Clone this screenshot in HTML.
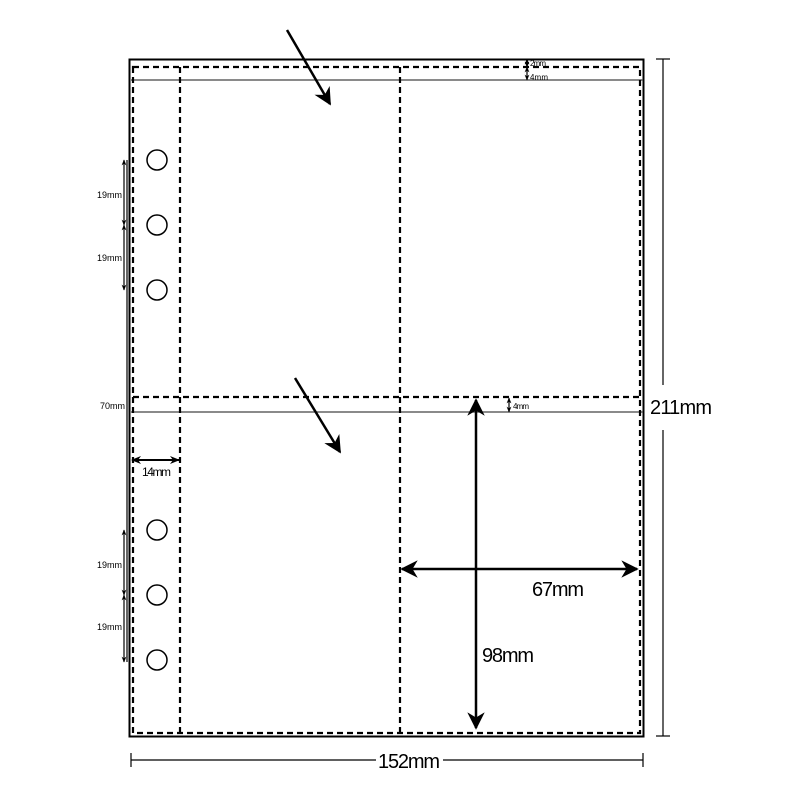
<!DOCTYPE html>
<html><head><style>body{margin:0;background:#fff}svg{display:block}</style></head><body>
<svg width="800" height="800" viewBox="0 0 800 800" xmlns="http://www.w3.org/2000/svg" font-family="Liberation Sans, sans-serif">
<defs>
<marker id="a" viewBox="0 0 10 10" refX="9" refY="5" markerWidth="7" markerHeight="7" orient="auto-start-reverse"><path d="M0,0 L10,5 L0,10 L3,5z" fill="#000"/></marker>
<marker id="s" viewBox="0 0 10 10" refX="9" refY="5" markerWidth="5" markerHeight="5" orient="auto-start-reverse"><path d="M0,1 L10,5 L0,9 L3,5z" fill="#000"/></marker>
</defs>
<rect x="129.5" y="59.5" width="514" height="677" fill="none" stroke="#000" stroke-width="2"/>
<line x1="131" y1="80" x2="643" y2="80" stroke="#444" stroke-width="1.2"/>
<line x1="131" y1="412" x2="643" y2="412" stroke="#444" stroke-width="1.2"/>
<g stroke="#000" stroke-width="2.2" stroke-dasharray="6,4" fill="none">
<rect x="133" y="67" width="507" height="666"/>
<line x1="180" y1="67" x2="180" y2="733"/>
<line x1="400" y1="67" x2="400" y2="733"/>
<line x1="133" y1="397" x2="640" y2="397"/>
</g>
<g fill="none" stroke="#000" stroke-width="1.5">
<circle cx="157" cy="160" r="10"/><circle cx="157" cy="225" r="10"/><circle cx="157" cy="290" r="10"/>
<circle cx="157" cy="530" r="10"/><circle cx="157" cy="595" r="10"/><circle cx="157" cy="660" r="10"/>
</g>
<g stroke="#000" stroke-width="1.2">
<line x1="127" y1="160" x2="127" y2="662"/>
<line x1="124" y1="160" x2="124" y2="225" marker-start="url(#s)" marker-end="url(#s)"/>
<line x1="124" y1="225" x2="124" y2="290" marker-start="url(#s)" marker-end="url(#s)"/>
<line x1="124" y1="530" x2="124" y2="595" marker-start="url(#s)" marker-end="url(#s)"/>
<line x1="124" y1="595" x2="124" y2="662" marker-start="url(#s)" marker-end="url(#s)"/>
<line x1="527" y1="59" x2="527" y2="67" marker-start="url(#s)" marker-end="url(#s)"/>
<line x1="527" y1="67" x2="527" y2="80" marker-start="url(#s)" marker-end="url(#s)"/>
<line x1="509" y1="398" x2="509" y2="412" marker-start="url(#s)" marker-end="url(#s)"/>
<line x1="663" y1="59" x2="663" y2="385"/><line x1="663" y1="430" x2="663" y2="736"/>
<line x1="656" y1="59" x2="670" y2="59"/><line x1="656" y1="736" x2="670" y2="736"/>
<line x1="131" y1="760" x2="376" y2="760"/><line x1="443" y1="760" x2="643" y2="760"/>
<line x1="131" y1="753" x2="131" y2="767"/><line x1="643" y1="753" x2="643" y2="767"/>
</g>
<g stroke="#000" stroke-width="2.5">
<line x1="287" y1="30" x2="330" y2="104" marker-end="url(#a)"/>
<line x1="295" y1="378" x2="340" y2="452" marker-end="url(#a)"/>
<line x1="476" y1="400" x2="476" y2="728" marker-start="url(#a)" marker-end="url(#a)"/>
<line x1="402" y1="569" x2="637" y2="569" marker-start="url(#a)" marker-end="url(#a)"/>
<line x1="132" y1="460" x2="179" y2="460" stroke-width="2" marker-start="url(#s)" marker-end="url(#s)"/>
</g>
<g font-size="9" fill="#000">
<text x="97" y="198" textLength="25">19mm</text><text x="97" y="261" textLength="25">19mm</text>
<text x="97" y="568" textLength="25">19mm</text><text x="97" y="630" textLength="25">19mm</text>
<text x="100" y="409" textLength="25">70mm</text>
<text x="530" y="66" font-size="8" textLength="16">2mm</text><text x="530" y="80" font-size="8" textLength="18">4mm</text>
<text x="513" y="409" font-size="8" textLength="16">4mm</text>
<text x="142" y="476" font-size="12" textLength="29">14mm</text>
</g>
<g font-size="20" fill="#000">
<text x="532" y="596" textLength="52">67mm</text>
<text x="482" y="662" textLength="52">98mm</text>
<text x="650" y="414" textLength="62">211mm</text>
<text x="378" y="768" textLength="62">152mm</text>
</g>
</svg>
</body></html>
